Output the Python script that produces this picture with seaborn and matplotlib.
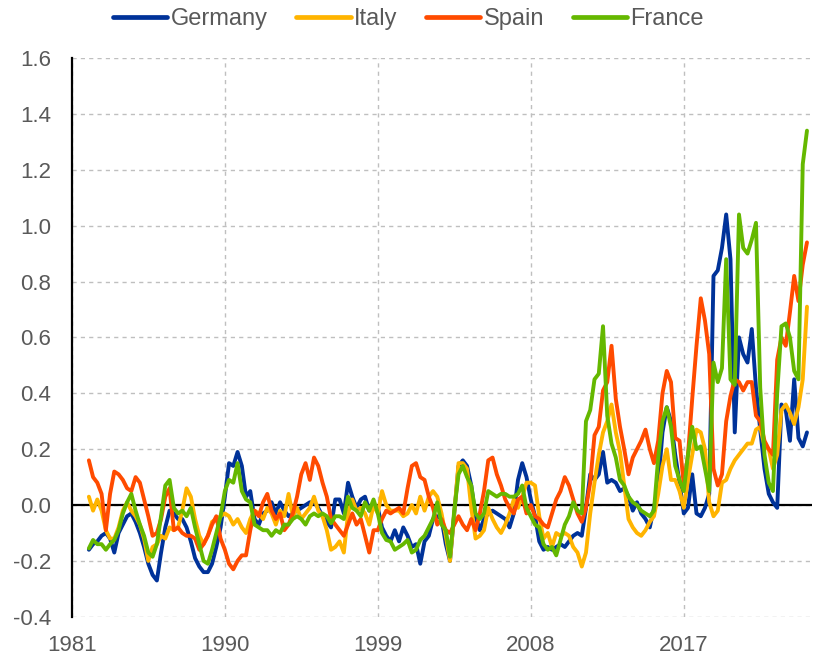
import pandas as pd
import matplotlib
matplotlib.use("Agg")
import matplotlib.pyplot as plt
import matplotlib.dates as mdates
import seaborn as sns

sns.set_theme(style="white")
plt.rcParams["font.family"] = ["Liberation Sans", "DejaVu Sans"]

dates = pd.date_range("1982-01-01", "2024-04-01", freq="QS")

COUNTRIES = ["Germany", "Italy", "Spain", "France"]
COLORS = ["#003299", "#FFB400", "#FF4B00", "#65B800"]

germany = [
    -0.16, -0.14, -0.13, -0.11, -0.10, -0.12, -0.17, -0.10,
    -0.07, -0.04, -0.03, -0.06, -0.10, -0.15, -0.21, -0.25,
    -0.27, -0.17, -0.08, -0.02, -0.03, -0.05, -0.05, -0.08,
    -0.13, -0.19, -0.22, -0.24, -0.24, -0.21, -0.15, -0.08,
    0.03, 0.15, 0.14, 0.19, 0.14, 0.03, 0.05, -0.05,
    -0.07, -0.03, -0.02, 0.01, -0.03, 0.01, -0.02, -0.04,
    -0.03, -0.02, -0.01, 0.00, 0.01, 0.01, -0.01, -0.04,
    -0.06, -0.08, 0.02, 0.02, -0.03, 0.08, 0.03, -0.01,
    0.02, 0.03, -0.02, 0.00, -0.01, -0.08, -0.11, -0.13,
    -0.09, -0.13, -0.08, -0.11, -0.15, -0.14, -0.21, -0.13,
    -0.11, -0.05, -0.04, -0.05, -0.14, -0.20, -0.03, 0.14,
    0.16, 0.14, 0.07, -0.04, -0.09, -0.05, -0.03, -0.02,
    -0.03, -0.04, -0.05, -0.08, -0.03, 0.09, 0.15, 0.10,
    0.02, -0.04, -0.13, -0.16, -0.15, -0.16, -0.15, -0.14,
    -0.15, -0.13, -0.11, -0.10, -0.11, -0.01, 0.11, 0.09,
    0.11, 0.19, 0.08, 0.09, 0.08, 0.05, 0.06, 0.03,
    -0.02, 0.01, -0.03, -0.05, -0.08, -0.01, 0.07, 0.26,
    0.35, 0.30, 0.18, 0.08, -0.03, -0.01, 0.11, -0.03,
    -0.04, -0.01, 0.04, 0.82, 0.84, 0.92, 1.04, 0.88,
    0.26, 0.60, 0.54, 0.51, 0.63, 0.42, 0.27, 0.13,
    0.04, 0.01, -0.01, 0.36, 0.34, 0.23, 0.45, 0.24,
    0.21, 0.26,
]
italy = [
    0.03, -0.02, 0.02, -0.02, -0.09, -0.12, -0.12, -0.08,
    -0.02, 0.01, -0.02, -0.04, -0.07, -0.12, -0.20, -0.15,
    -0.14, -0.11, -0.12, -0.08, -0.09, -0.08, -0.02, 0.06,
    0.03, -0.05, -0.11, -0.14, -0.11, -0.06, -0.05, -0.04,
    -0.03, -0.04, -0.07, -0.05, -0.08, -0.10, -0.05, -0.02,
    -0.03, -0.05, -0.01, -0.03, -0.07, -0.02, -0.04, 0.04,
    -0.04, -0.01, -0.05, -0.03, -0.01, 0.03, -0.02, -0.04,
    -0.09, -0.16, -0.15, -0.13, -0.17, -0.03, 0.02, -0.02,
    -0.01, -0.03, -0.07, 0.00, -0.03, 0.05, 0.00, -0.02,
    -0.02, -0.02, -0.04, -0.03, 0.00, -0.03, 0.03, -0.02,
    0.03, 0.05, 0.03, -0.03, -0.11, -0.20, -0.03, 0.15,
    0.15, 0.13, -0.01, -0.12, -0.11, -0.09, -0.01, -0.05,
    -0.08, -0.10, -0.07, -0.03, 0.02, -0.01, 0.03, 0.08,
    0.08, 0.07, -0.04, -0.12, -0.10, -0.15, -0.10, -0.11,
    -0.10, -0.11, -0.15, -0.17, -0.22, -0.17, -0.03, 0.08,
    0.18, 0.26, 0.30, 0.36, 0.26, 0.19, 0.07, -0.05,
    -0.08, -0.10, -0.11, -0.09, -0.06, -0.04, 0.04, 0.14,
    0.20, 0.09, 0.09, 0.05, -0.01, 0.09, 0.18, 0.27,
    0.26, 0.20, 0.01, -0.04, -0.02, 0.08, 0.09, 0.13,
    0.16, 0.18, 0.20, 0.22, 0.22, 0.27, 0.28, 0.21,
    0.20, 0.13, 0.18, 0.34, 0.36, 0.33, 0.29, 0.35,
    0.45, 0.71,
]
spain = [
    0.16, 0.10, 0.08, 0.04, -0.09, 0.04, 0.12, 0.11,
    0.09, 0.06, 0.05, 0.10, 0.08, 0.02, -0.04, -0.11,
    -0.10, -0.05, 0.03, 0.06, -0.09, -0.08, -0.10, -0.11,
    -0.11, -0.12, -0.16, -0.14, -0.11, -0.07, -0.04, -0.12,
    -0.16, -0.21, -0.23, -0.20, -0.18, -0.18, -0.09, -0.02,
    -0.04, 0.01, 0.04, -0.02, -0.05, -0.03, -0.09, -0.07,
    -0.03, 0.03, 0.11, 0.15, 0.09, 0.17, 0.14, 0.08,
    0.03, -0.05, -0.07, -0.09, -0.11, -0.07, -0.03, -0.07,
    -0.05, -0.11, -0.17, -0.09, -0.09, -0.05, -0.02, -0.03,
    -0.02, -0.01, -0.03, 0.06, 0.14, 0.15, 0.10, 0.09,
    0.03, -0.01, -0.07, -0.05, -0.09, -0.10, -0.07, -0.04,
    -0.07, -0.09, -0.05, -0.09, -0.03, 0.05, 0.16, 0.17,
    0.11, 0.07, 0.02, -0.01, -0.03, 0.02, 0.03, -0.03,
    0.00, -0.04, -0.05, -0.07, -0.08, -0.03, 0.02, 0.05,
    0.10, 0.07, 0.02, -0.03, -0.06, -0.01, 0.08, 0.25,
    0.28, 0.41, 0.44, 0.57, 0.38, 0.28, 0.20, 0.11,
    0.17, 0.20, 0.23, 0.27, 0.20, 0.15, 0.23, 0.40,
    0.48, 0.44, 0.24, 0.23, 0.07, 0.18, 0.38, 0.57,
    0.74, 0.66, 0.54, 0.13, 0.07, 0.11, 0.30, 0.39,
    0.45, 0.44, 0.41, 0.44, 0.44, 0.32, 0.30, 0.23,
    0.20, 0.18, 0.52, 0.60, 0.57, 0.69, 0.82, 0.73,
    0.86, 0.94,
]
france = [
    -0.155, -0.125, -0.14, -0.14, -0.16, -0.14, -0.125, -0.09,
    -0.03, 0.01, 0.04, -0.02, -0.07, -0.11, -0.17, -0.185,
    -0.14, -0.04, 0.07, 0.09, -0.01, -0.03, -0.02, -0.04,
    -0.01, -0.08, -0.14, -0.20, -0.21, -0.16, -0.10, -0.04,
    0.05, 0.09, 0.08, 0.15, 0.05, 0.02, 0.01, -0.07,
    -0.08, -0.09, -0.09, -0.11, -0.09, -0.10, -0.07, -0.07,
    -0.05, -0.04, -0.05, -0.07, -0.04, -0.03, -0.04, -0.03,
    -0.04, -0.065, -0.04, -0.04, -0.05, 0.03, -0.01, -0.02,
    -0.04, 0.01, -0.02, 0.02, -0.03, -0.10, -0.125, -0.13,
    -0.16, -0.15, -0.14, -0.125, -0.17, -0.16, -0.125, -0.11,
    -0.08, -0.05, 0.01, -0.07, -0.09, -0.185, -0.02, 0.11,
    0.14, 0.10, 0.07, -0.03, -0.05, -0.03, 0.05, 0.04,
    0.03, 0.04, 0.04, 0.03, 0.03, 0.04, 0.07, -0.01,
    -0.04, -0.07, -0.08, -0.14, -0.16, -0.15, -0.18, -0.125,
    -0.07, -0.04, 0.01, -0.02, -0.03, 0.30, 0.34, 0.45,
    0.47, 0.64, 0.32, 0.22, 0.17, 0.09, 0.07, 0.03,
    0.01, 0.00, -0.02, -0.03, -0.04, -0.02, 0.17, 0.30,
    0.35, 0.28, 0.14, 0.09, 0.05, 0.18, 0.28, 0.20,
    0.21, 0.13, 0.05, 0.51, 0.44, 0.49, 0.88, 0.45,
    0.43, 1.04, 0.92, 0.90, 0.95, 1.01, 0.42, 0.18,
    0.08, 0.05, 0.40, 0.64, 0.65, 0.60, 0.48, 0.45,
    1.22, 1.34,
]

df = pd.DataFrame({"date": dates, "Germany": germany, "Italy": italy,
                   "Spain": spain, "France": france})
long_df = df.melt(id_vars="date", var_name="country", value_name="value")

fig, ax = plt.subplots(figsize=(8.17, 6.59), dpi=100)
fig.subplots_adjust(left=0.088, right=0.994, bottom=0.064, top=0.912)

sns.lineplot(data=long_df, x="date", y="value", hue="country",
             hue_order=COUNTRIES, palette=COLORS, linewidth=2.8, ax=ax)

grey = "#595959"
ax.set_xlim(pd.Timestamp("1981-01-01"), pd.Timestamp("2024-07-20"))
ax.set_ylim(-0.4, 1.6)
ax.set_xticks([pd.Timestamp(f"{y}-01-01") for y in [1981, 1990, 1999, 2008, 2017]])
ax.xaxis.set_major_formatter(mdates.DateFormatter("%Y"))
ax.set_yticks([i / 10 for i in range(-4, 17, 2)])
ax.yaxis.set_major_formatter(plt.FuncFormatter(lambda v, p: f"{v:.1f}"))
ax.tick_params(axis="both", colors=grey, labelsize=16, length=0)
ax.tick_params(axis="x", pad=13)
ax.tick_params(axis="y", pad=15)
ax.set_xlabel("")
ax.set_ylabel("")

ax.grid(True, color="#bfbfbf", linestyle=(0, (3, 3)), linewidth=1)
ax.axhline(0, color="black", linewidth=1.6, zorder=1.5)
for side in ["top", "right", "bottom"]:
    ax.spines[side].set_visible(False)
ax.spines["left"].set_color("black")
ax.spines["left"].set_linewidth(1.6)

handles, labels = ax.get_legend_handles_labels()
ax.get_legend().remove()
for h in handles:
    h.set_linewidth(3.4)
fig.legend(handles, labels, loc="center", bbox_to_anchor=(0.5, 1 - 19 / 659),
           ncol=4, frameon=False, fontsize=17, handlelength=2.3,
           handletextpad=0.15, columnspacing=1.2, labelcolor=grey)

fig.savefig("out.png", dpi=100)
